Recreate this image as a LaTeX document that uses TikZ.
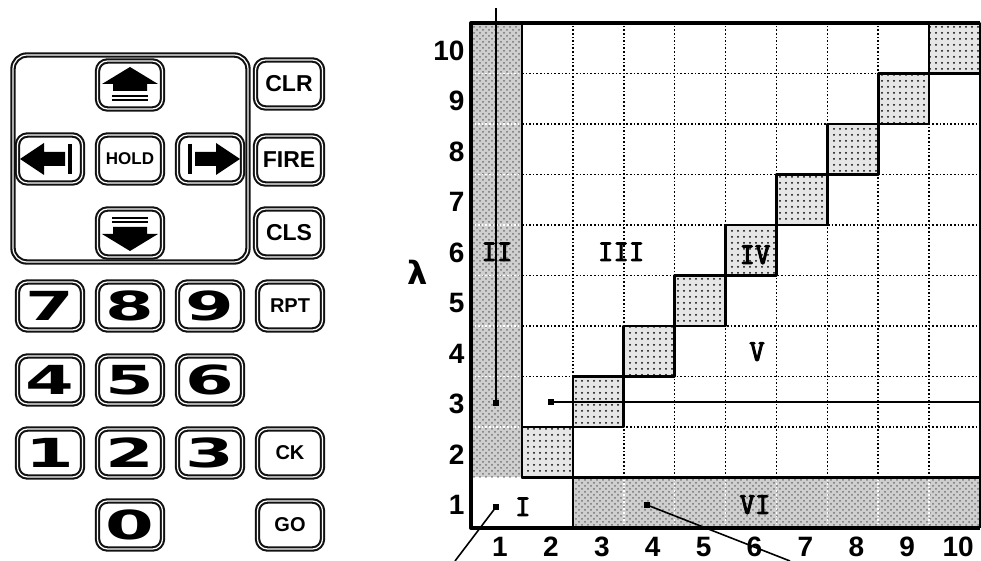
\documentclass[tikz,border=0pt]{standalone}
\usepackage{fontspec}
\setmainfont{Liberation Sans}
\newfontfamily\zonefont[AutoFakeBold=3.5]{Latin Modern Mono}
\newfontfamily\keyfont{DejaVu Sans}
\usetikzlibrary{patterns}
\definecolor{PadInk}{HTML}{111111}
\definecolor{ZoneDark}{HTML}{CFCFCF}
\definecolor{ZoneLight}{HTML}{E6E6E6}

\tikzset{
  key/.style={draw=PadInk, line width=1.05pt, double=white, double distance=0.6pt,
              rounded corners=5pt, minimum width=32.5pt, minimum height=24pt, inner sep=0pt},
  keytext/.style={key, font=\fontsize{11.5}{12}\selectfont\bfseries},
  numkey/.style={key, font=\keyfont\fontsize{20}{20}\selectfont\bfseries},
  zone/.style={font=\zonefont\fontsize{15}{15}\selectfont\bfseries, inner sep=0pt},
  axisnum/.style={font=\fontsize{14}{14}\selectfont\bfseries, inner sep=0pt},
  gridline/.style={densely dotted, line width=0.8pt},
  wall/.style={line width=1.3pt},
  shade/.style={preaction={fill=ZoneDark}, pattern=crosshatch dots, pattern color=black!55},
  dot/.style={fill, minimum size=2.8pt, inner sep=0pt},
}

\begin{document}
\begin{tikzpicture}[x=0.5pt, y=-0.5pt, line join=round]
  \useasboundingbox (0,0) rectangle (981,561);
  \node[key, minimum width=117.5pt, minimum height=103.5pt, rounded corners=7pt] (pad) at (130.5,158.5) {};
  \node[key] (up) at (130,85) {};
  \node[key] (left) at (50,159) {};
  \node[key, font=\fontsize{8.5}{9}\selectfont\bfseries] (hold) at (130,159) {HOLD};
  \node[key] (right) at (210,159) {};
  \node[key] (down) at (130,233) {};
  \foreach \name/\y in {CLR/84, FIRE/160, CLS/233}
    \node[keytext, minimum width=33.5pt] (\name) at (289,\y) {\name};
  \foreach \name/\y in {RPT/306, CK/453, GO/525}
    \node[keytext, font=\fontsize{10}{10}\selectfont\bfseries] (\name) at (290,\y) {\name};
  \foreach \d/\x/\y in {7/50/306, 8/130/306, 9/210/306, 4/50/380, 5/130/380, 6/210/380,
                        1/50/453, 2/130/453, 3/210/453, 0/130/525}
    \node[numkey] (k\d) at (\x,\y) {\scalebox{1.75}[1]{\d}};
  \foreach \k/\s in {up/1, down/-1} {
    \begin{scope}[shift={(\k.center)}, yscale=\s]
      \fill (0,-18) -- (28,-1) -- (17,-1) -- (17,6) -- (-17,6) -- (-17,-1) -- (-28,-1) -- cycle;
      \draw[line width=0.8pt] (-18,11) -- (18,11) (-18,15) -- (18,15);
    \end{scope}
  }
  \foreach \k/\s in {left/1, right/-1} {
    \begin{scope}[shift={(\k.center)}, xscale=\s]
      \fill (-30,0) -- (-6,-16) -- (-6,-7) -- (15,-7) -- (15,7) -- (-6,7) -- (-6,16) -- cycle;
      \draw[line width=2pt] (20,-15) -- (20,15);
    \end{scope}
  }

  \begin{scope}[shift={(471,528)}, x=25.45pt, y=25.25pt]
    \fill[shade] (0,1) rectangle (1,10);
    \fill[shade] (2,0) rectangle (10,1);
    \foreach \i in {2,...,9} {
      \draw[gridline] (\i,1) -- (\i,10);
      \draw[gridline] (1,\i) -- (10,\i);
      \draw[gridline, white] (0,\i) -- (1,\i);
    }
    \foreach \i in {3,...,9}
      \draw[gridline, white] (\i,0) -- (\i,1);
    \foreach \k in {2,...,10}
      \draw[wall, preaction={fill=ZoneLight}, pattern=dots] (\k-1,\k-1) rectangle (\k,\k);
    \draw[wall] (1,10) -- (1,1) -- (10,1);
    \draw[wall] (2,0) -- (2,1);
    \draw[wall] (10,0) -- (10,10);
    \draw[line width=2pt] (10,10) -- (0,10) -- (0,0) -- (10,0);
    \foreach \n in {1,...,10} {
      \node[axisnum, anchor=east] (row\n) at (-0.12,\n-0.55) {\n};
      \node[axisnum] (col\n) at (\n-0.43,-0.38) {\n};
    }
    \node[font=\keyfont\fontsize{16}{16}\selectfont\bfseries] (lam) at (-1.04,5.07) {λ};
    \node[zone] (I) at (1.02,0.42) {I};
    \node[zone] (II) at (0.51,5.47) {II};
    \node[zone] (III) at (2.95,5.47) {III};
    \node[zone] (IV) at (5.58,5.41) {IV};
    \node[zone] (V) at (5.62,3.49) {V};
    \node[zone] (VI) at (5.58,0.46) {VI};
  \end{scope}

  \node[dot] (d1) at (496,507) {};
  \node[dot] (d2) at (496,403) {};
  \node[dot] (d3) at (551,402) {};
  \node[dot] (d4) at (647,505) {};
  \coordinate (e1) at (455,561);
  \coordinate (e2) at (496,8);
  \coordinate (e3) at (981,402);
  \coordinate (e4) at (790,561);
  \draw[line width=0.8pt] (d1.center) -- (e1);
  \draw[line width=1.1pt] (d2.center) -- (e2);
  \draw[line width=1pt] (d3.center) -- (e3);
  \draw[line width=0.8pt] (d4.center) -- (e4);
\end{tikzpicture}
\end{document}
